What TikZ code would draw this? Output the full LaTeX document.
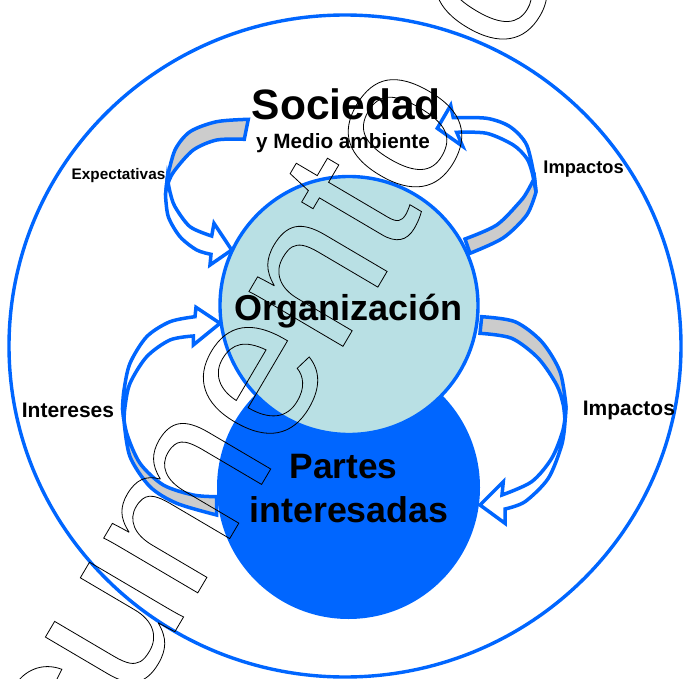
\documentclass[tikz,border=0pt]{standalone}
\usepackage{fontspec}
\setmainfont{Liberation Sans}
\definecolor{pblue}{HTML}{0066FF}
\definecolor{lblue}{HTML}{B9E0E4}
\definecolor{bgray}{HTML}{CCCCCC}
\newcommand{\outlinetext}[1]{\special{pdf:literal direct 1 Tr 0.8 w}#1\special{pdf:literal direct 0 Tr}}
\begin{document}
\begin{tikzpicture}[x=1pt,y=-1pt,
  ring/.style={draw=pblue, line width=3.4pt},
  band/.style={draw=pblue, line width=3.5pt, line join=miter, miter limit=10},
  backface/.style={band, fill=bgray},
  frontface/.style={band, fill=white},
  lbl/.style={font=\bfseries\fontsize{#1}{#1}\selectfont, inner sep=0pt, anchor=base},
]
\useasboundingbox (0,0) rectangle (683,679);
\clip (0,0) rectangle (683,679);
\fill[white] (0,0) rectangle (683,679);

% outer ring
\draw[ring] (345,346) ellipse [x radius=336, y radius=331];

% circles
\node[circle, fill=pblue, minimum size=263pt, inner sep=0pt] (pi) at (348.5,487.5) {};
\node[circle, fill=lblue, draw=pblue, line width=3.4pt, minimum size=258pt, inner sep=0pt] (org) at (349,305.5) {};

% arrow 1 (Expectativas)
\path[backface] plot[smooth] coordinates {(248.3,119.3) (216.7,121.7) (190,131.7) (175,150) (167.3,178)}
  -- plot[smooth] coordinates {(165.5,195) (168.5,182) (175,170) (193.3,150) (216.7,140) (244.3,139.3)} -- cycle;
\path[frontface] plot[smooth] coordinates {(167.3,178) (170,192) (175,206.7) (190,226.7) (211.7,236)}
  -- (214,223.3) -- (231.7,250) -- (210,265)
  -- plot[smooth] coordinates {(211,254.3) (196.7,250) (180,236.7) (168.3,216.7) (165.5,195)} -- cycle;

% arrow 2 (Impactos, top)
\path[backface] plot[smooth] coordinates {(470,253.3) (503,238) (526.7,215) (536,192)}
  -- plot[smooth] coordinates {(534.5,178) (527,192) (520,201.7) (496.7,225) (465,239)} -- cycle;
\path[frontface] (536,192) -- plot[smooth] coordinates {(534.5,178) (526.7,145) (510,126.7) (486.7,118.3) (453.3,117.7)}
  -- (450.7,105.3) -- (437.3,128.3) -- (462.7,146.3)
  -- plot[smooth] coordinates {(456.7,132.3) (486.7,133.3) (513.3,145) (526.7,158.3) (532,172) (536,192)} -- cycle;

% arrow 3 (Impactos, right)
\path[backface] plot[smooth] coordinates {(481.7,316.7) (515,321.7) (541.7,341.7) (560,371.7) (566,406)}
  -- plot[smooth] coordinates {(565,422) (563.3,405) (556.7,385) (538.3,358.3) (511.7,338.3) (480,333.3)} -- cycle;
\path[frontface] plot[smooth] coordinates {(566,406) (563,430) (551.7,458.3) (531.7,481.7) (502,495)}
  -- (503.3,481.7) -- (480,505) -- (505,523.3)
  -- plot[smooth] coordinates {(505,509) (525,501.7) (548.3,478.3) (561.7,445) (565,422)} -- cycle;

% arrow 4 (Intereses)
\path[backface] plot[smooth] coordinates {(124,421) (130,456.7) (150,486.7) (176.7,503.3) (216.7,515)}
  -- plot[smooth] coordinates {(216.7,496.7) (193.3,495) (163.3,485) (140,463.3) (126.7,433.3) (122.5,408)} -- cycle;
\path[frontface] plot[smooth] coordinates {(122.5,408) (124,390) (130,363.3) (146.7,336.7) (170,321.7) (195,316.7)}
  -- (196,307.3) -- (220,323.3) -- (193.3,345)
  -- plot[smooth] coordinates {(193.3,336) (170,340) (146.7,356.7) (130,383.3) (125,406.7) (124,421)} -- cycle;

% labels
\node[lbl=42.5] (soc) at (346.2,119.5) {Sociedad};
\node[lbl=20.7] (med) at (343,149) {y Medio ambiente};
\node[lbl=15.3] (expt) at (118.5,180) {Expectativas};
\node[lbl=18.3] (imp1) at (583.6,174) {Impactos};
\node[lbl=21] (intr) at (68,417) {Intereses};
\node[lbl=21] (imp2) at (628.9,415.5) {Impactos};
\node[lbl=36] (orgt) at (348.8,320) {Organización};
\node[lbl=35.3] (par1) at (343.5,478) {Partes};
\node[lbl=35.8] (par2) at (349,522.7) {interesadas};

% watermark
\node[rotate=59.5, anchor=base west, inner sep=0pt, outer sep=0pt, text=black,
      font=\fontsize{206}{206}\selectfont] (wm) at (-53.5,1019.4)
  {\outlinetext{Documento c}};
\end{tikzpicture}
\end{document}
